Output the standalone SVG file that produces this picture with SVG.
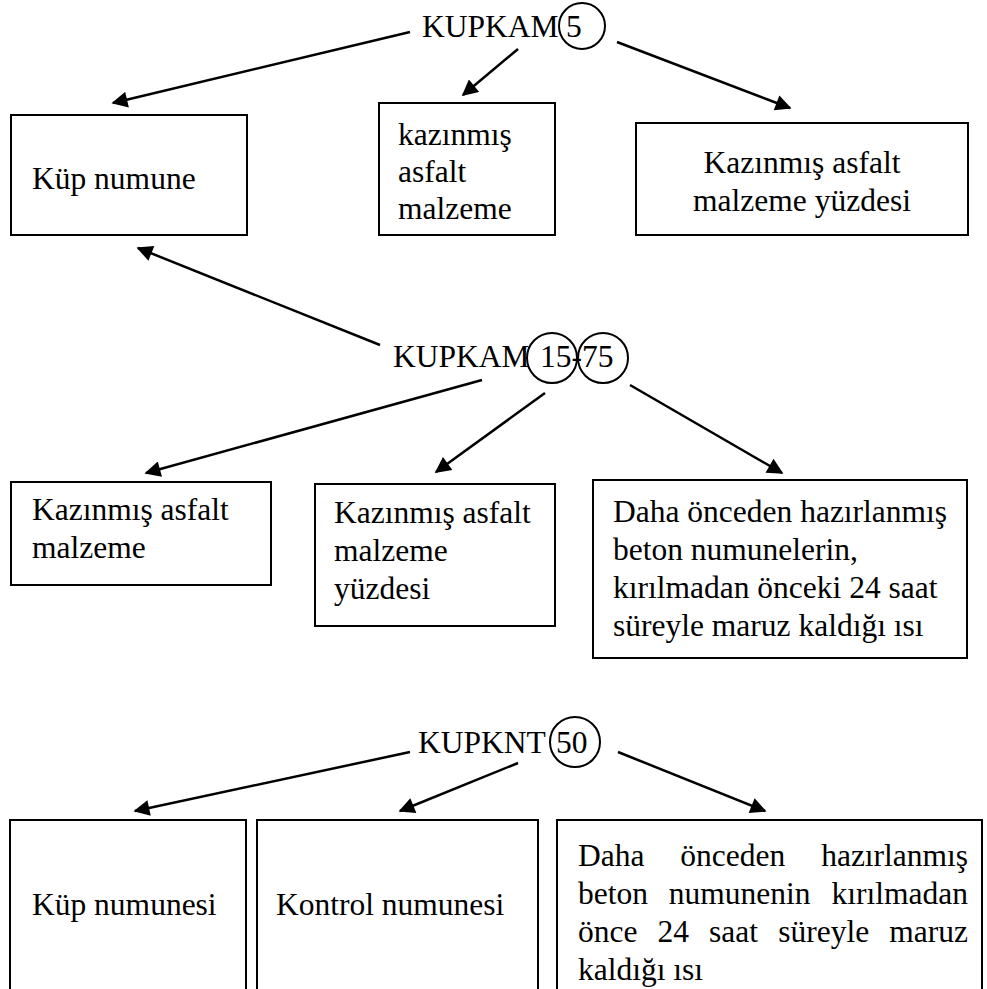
<svg xmlns="http://www.w3.org/2000/svg" width="987" height="989" viewBox="0 0 987 989">
<style>
text{font-family:"Liberation Serif","Times New Roman",serif;font-size:31.5px;fill:#000}
.box{fill:#fff;stroke:#000;stroke-width:2}
.c{fill:none;stroke:#000;stroke-width:2}
.ln{stroke:#000;stroke-width:2.5;fill:none;marker-end:url(#ah)}
</style>
<defs>
<marker id="ah" viewBox="0 0 10 10" refX="9" refY="5" orient="auto" markerUnits="userSpaceOnUse" markerWidth="20" markerHeight="16"><path d="M0,0 L10,5 L0,10 z" fill="#000"/></marker>
</defs>
<rect width="987" height="989" fill="#fff"/>
<g id="kup-numune">
<rect class="box" x="11" y="115" width="236" height="120"/>
<text x="32" y="189">Küp numune</text>
</g>
<g id="kazinmis-asfalt-malzeme-1">
<rect class="box" x="379" y="103" width="176" height="132"/>
<text x="398" y="145">kazınmış</text>
<text x="398" y="182">asfalt</text>
<text x="398" y="219">malzeme</text>
</g>
<g id="yuzde-1">
<rect class="box" x="636" y="123" width="332" height="112"/>
<text x="802" y="173" text-anchor="middle">Kazınmış asfalt</text>
<text x="802" y="211" text-anchor="middle">malzeme yüzdesi</text>
</g>
<g id="kazinmis-asfalt-malzeme-2">
<rect class="box" x="11" y="482" width="260" height="103"/>
<text x="32" y="520">Kazınmış asfalt</text>
<text x="32" y="558">malzeme</text>
</g>
<g id="yuzde-2">
<rect class="box" x="315" y="484" width="240" height="142"/>
<text x="334" y="523">Kazınmış asfalt</text>
<text x="334" y="561">malzeme</text>
<text x="334" y="599">yüzdesi</text>
</g>
<g id="isi-1">
<rect class="box" x="593" y="480" width="374" height="178"/>
<text x="613" y="522">Daha önceden hazırlanmış</text>
<text x="613" y="560">beton numunelerin,</text>
<text x="613" y="598">kırılmadan önceki 24 saat</text>
<text x="613" y="636">süreyle maruz kaldığı ısı</text>
</g>
<g id="kup-numunesi">
<rect class="box" x="10" y="820" width="236" height="190"/>
<text x="32" y="915">Küp numunesi</text>
</g>
<g id="kontrol-numunesi">
<rect class="box" x="257" y="820" width="281" height="190"/>
<text x="276" y="915">Kontrol numunesi</text>
</g>
<g id="isi-2">
<rect class="box" x="557" y="820" width="425" height="190"/>
<text x="578" y="866" word-spacing="28">Daha önceden hazırlanmış</text>
<text x="578" y="904" word-spacing="13">beton numunenin kırılmadan</text>
<text x="578" y="942" word-spacing="12.2">önce 24 saat süreyle maruz</text>
<text x="578" y="980">kaldığı ısı</text>
</g>
<g id="connectors">
<line class="ln" x1="410" y1="32" x2="113" y2="103"/>
<line class="ln" x1="518" y1="49" x2="463" y2="95"/>
<line class="ln" x1="617" y1="42" x2="790" y2="108"/>
<line class="ln" x1="380" y1="345" x2="138" y2="248"/>
<line class="ln" x1="482" y1="380" x2="146" y2="473"/>
<line class="ln" x1="545" y1="393" x2="436" y2="472"/>
<line class="ln" x1="630" y1="385" x2="782" y2="473"/>
<line class="ln" x1="410" y1="752" x2="135" y2="811"/>
<line class="ln" x1="518" y1="763" x2="400" y2="811"/>
<line class="ln" x1="618" y1="752" x2="765" y2="811"/>
</g>
<g id="kupkam5">
<text x="422" y="37">KUPKAM</text>
<circle class="c" cx="582" cy="26" r="23"/>
<text x="566" y="37">5</text>
</g>
<g id="kupkam15-75">
<text x="393" y="367">KUPKAM</text>
<circle class="c" cx="552" cy="358" r="25"/>
<circle class="c" cx="603" cy="358" r="25"/>
<text x="540" y="367">15-75</text>
</g>
<g id="kupknt50">
<text x="418" y="753">KUPKNT</text>
<circle class="c" cx="575" cy="742" r="25"/>
<text x="556" y="753">50</text>
</g>
</svg>
